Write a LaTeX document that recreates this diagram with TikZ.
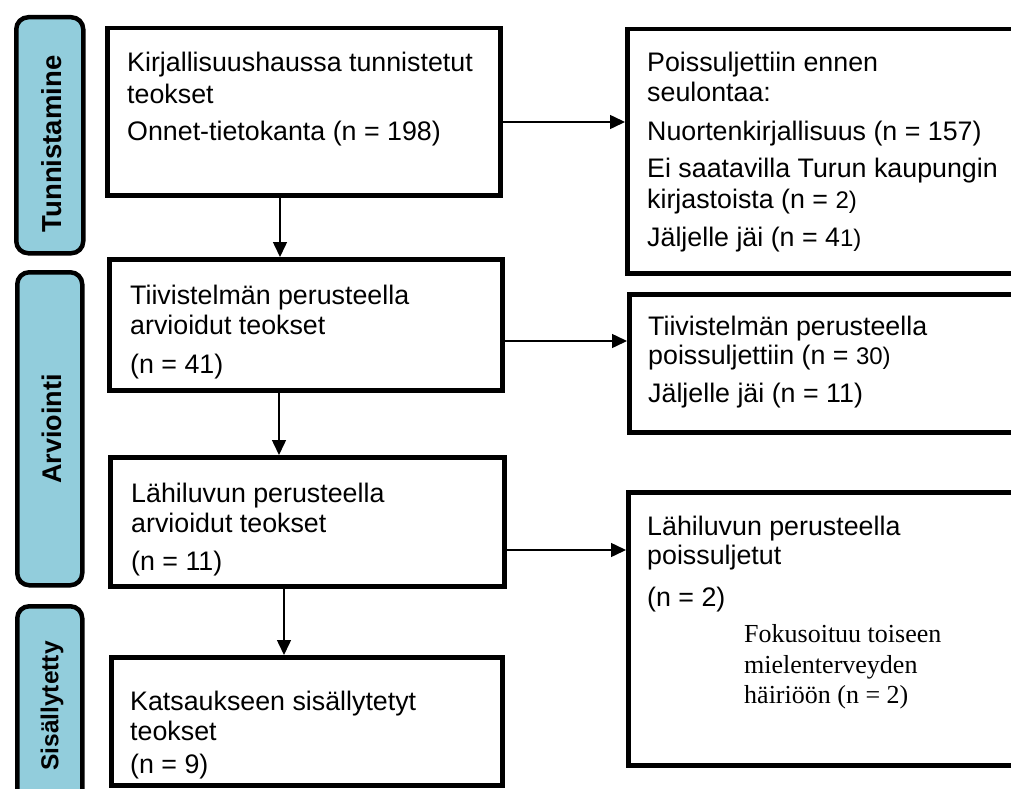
\documentclass[tikz,border=0pt]{standalone}
\usepackage{fontspec}
\setmainfont{Liberation Sans}
\newfontfamily\serifTNR{Liberation Serif}
\usetikzlibrary{arrows.meta}
\definecolor{barblue}{HTML}{92CDDC}
\newcommand\smallpart[1]{{\fontsize{24}{26}\selectfont #1}}
\begin{document}
\begin{tikzpicture}[x=1pt,y=-1pt,
  box/.style={draw=black, line width=4.5pt, fill=white, anchor=north west, inner sep=0pt},
  bar/.style={draw=black, line width=4.5pt, rounded corners=12pt, fill=barblue, anchor=north west, inner sep=0pt},
  txt/.style={anchor=base west, inner sep=0pt, font=\fontsize{26.8}{30}\selectfont},
  tms/.style={anchor=base west, inner sep=0pt, font=\serifTNR\fontsize{26}{31}\selectfont},
  lab/.style={rotate=90, inner sep=0pt, font=\bfseries\fontsize{27.5}{30}\selectfont},
  arr/.style={line width=1.5pt, -{Triangle[length=15pt,width=14pt]}}
]
\useasboundingbox (0,0) rectangle (1011,789);
\clip (0,0) rectangle (1011,789);

% side bars
\node[bar, minimum width=67pt, minimum height=236pt] (barT) at (14,15) {};
\node[bar, minimum width=65pt, minimum height=313pt] (barA) at (15,270) {};
\node[bar, minimum width=65pt, minimum height=230pt] (barS) at (15,604) {};
\node[lab] (labT) at (52,144) {Tunnistamine};
\node[lab, font=\bfseries\fontsize{27}{30}\selectfont] (labA) at (52,429) {Arviointi};
\node[lab, font=\bfseries\fontsize{24.5}{30}\selectfont] (labS) at (52,706) {Sisällytetty};

% left boxes
\node[box, minimum width=393pt, minimum height=167pt] (b1) at (105,26) {};
\node[box, minimum width=393pt, minimum height=131pt] (b2) at (107,257) {};
\node[box, minimum width=394pt, minimum height=129pt] (b3) at (108,455) {};
\node[box, minimum width=391pt, minimum height=128pt] (b4) at (109,655) {};

% right boxes
\node[box, minimum width=420pt, minimum height=244pt] (r1) at (625,27) {};
\node[box, minimum width=420pt, minimum height=138pt] (r2) at (627,292) {};
\node[box, minimum width=420pt, minimum height=273pt] (r3) at (626,490) {};

% texts
\node[txt] (t1a) at (127,72) {Kirjallisuushaussa tunnistetut};
\node[txt] (t1b) at (127,104) {teokset};
\node[txt] (t1c) at (127,140) {Onnet-tietokanta (n = 198)};

\node[txt] (t2a) at (130,304) {Tiivistelmän perusteella};
\node[txt] (t2b) at (130,334) {arvioidut teokset};
\node[txt] (t2c) at (130,373) {(n = 41)};

\node[txt] (t3a) at (131,502) {Lähiluvun perusteella};
\node[txt] (t3b) at (131,532) {arvioidut teokset};
\node[txt] (t3c) at (131,570) {(n = 11)};

\node[txt] (t4a) at (130,710) {Katsaukseen sisällytetyt};
\node[txt] (t4b) at (130,740) {teokset};
\node[txt] (t4c) at (130,773) {(n = 9)};

\node[txt] (s1a) at (647,72) {Poissuljettiin ennen};
\node[txt] (s1b) at (647,102) {seulontaa:};
\node[txt] (s1c) at (647,140) {Nuortenkirjallisuus (n = 157)};
\node[txt] (s1d) at (647,177) {Ei saatavilla Turun kaupungin};
\node[txt] (s1e) at (647,208) {kirjastoista (n = \smallpart{2)}};
\node[txt] (s1f) at (647,246) {Jäljelle jäi (n = 4\smallpart{1)}};

\node[txt] (s2a) at (648,335) {Tiivistelmän perusteella};
\node[txt] (s2b) at (648,364) {poissuljettiin (n = \smallpart{30)}};
\node[txt] (s2c) at (648,402) {Jäljelle jäi (n = 11)};

\node[txt] (s3a) at (647,535) {Lähiluvun perusteella};
\node[txt] (s3b) at (647,564) {poissuljetut};
\node[txt] (s3c) at (647,606) {(n = 2)};
\node[tms] (s3d) at (744,642) {Fokusoituu toiseen};
\node[tms] (s3e) at (744,673) {mielenterveyden};
\node[tms] (s3f) at (744,703) {häiriöön (n = 2)};

% connectors
\coordinate (v1) at (280,0);
\coordinate (v2) at (279,0);
\coordinate (v3) at (284,0);
\coordinate (h1) at (0,122);
\coordinate (h2) at (0,341);
\coordinate (h3) at (0,550);
\draw[arr] (b1.south -| v1) -- (b2.north -| v1);
\draw[arr] (b2.south -| v2) -- (b3.north -| v2);
\draw[arr] (b3.south -| v3) -- (b4.north -| v3);
\draw[arr] (b1.east |- h1) -- (r1.west |- h1);
\draw[arr] (b2.east |- h2) -- (r2.west |- h2);
\draw[arr] (b3.east |- h3) -- (r3.west |- h3);
\end{tikzpicture}
\end{document}
